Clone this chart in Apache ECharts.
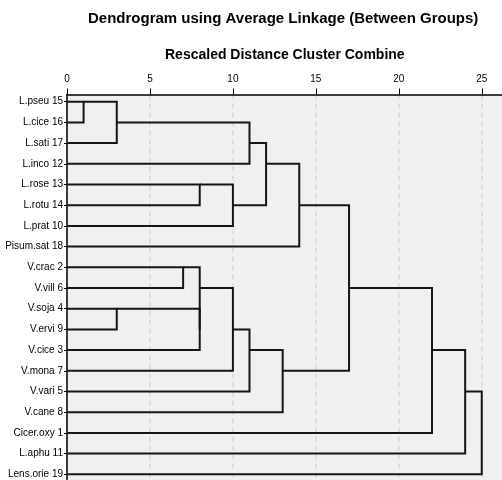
<!DOCTYPE html>
<html>
<head>
<meta charset="utf-8">
<script src="https://cdn.jsdelivr.net/npm/echarts@6/dist/echarts.min.js"></script>
<style>
html,body{margin:0;padding:0;background:#fff;}
#chart{width:502px;height:480px;}
</style>
</head>
<body>
<div id="chart"></div>
<script>
// Leaves in dendrogram order (top to bottom)
const leafLabels = ['L.pseu 15','L.cice 16','L.sati 17','L.inco 12','L.rose 13','L.rotu 14','L.prat 10','Pisum.sat 18',
  'V.crac 2','V.vill 6','V.soja 4','V.ervi 9','V.cice 3','V.mona 7','V.vari 5','V.cane 8','Cicer.oxy 1','L.aphu 11','Lens.orie 19'];
// Agglomeration schedule: node ids 0-18 are leaves, 19+ are merges in this order
const mergeA    = [0, 10, 19, 8, 4, 20, 22, 23, 25, 21, 27, 28, 29, 30, 32, 33, 34, 35];
const mergeB    = [1, 11, 2,  9, 5, 12, 24, 6,  13, 3,  14, 26, 15, 7,  31, 16, 17, 18];
const mergeDist = [1, 3,  3,  7, 8, 8,  8,  10, 10, 11, 11, 12, 13, 14, 17, 22, 24, 25];
const xTicks = [0, 5, 10, 15, 20, 25];

const nLeaf = leafLabels.length;
const pos = [], hgt = [];
for (let i = 0; i < nLeaf; i++) { pos.push(i); hgt.push(0); }
const segs = [];
for (let k = 0; k < mergeA.length; k++) {
  const a = mergeA[k], b = mergeB[k], d = mergeDist[k];
  segs.push({coords: [[hgt[a], pos[a]], [d, pos[a]], [d, pos[b]], [hgt[b], pos[b]]]});
  pos.push(Math.floor((pos[a] + pos[b]) / 2));
  hgt.push(d);
}
const leafIdx = leafLabels.map((_, i) => i);
const FONT = '"Liberation Sans", Arial, sans-serif';

const chart = echarts.init(document.getElementById('chart'), null, {renderer: 'canvas'});
chart.setOption({
  animation: false,
  backgroundColor: '#ffffff',
  title: [
    {text: 'Dendrogram using Average Linkage (Between Groups)', left: 88, top: 11, padding: 0,
     textStyle: {fontFamily: FONT, fontSize: 15, fontWeight: 'bold', color: '#000'}},
    {text: 'Rescaled Distance Cluster Combine', left: 165, top: 48, padding: 0,
     textStyle: {fontFamily: FONT, fontSize: 14, fontWeight: 'bold', color: '#000'}}
  ],
  grid: {left: 67, right: 0, top: 94.5, bottom: 0, show: true, backgroundColor: '#f0f0f0', borderWidth: 0, containLabel: false},
  xAxis: {
    type: 'value', position: 'top', min: 0, max: 26.22, interval: 5,
    axisLine: {show: true, onZero: false, lineStyle: {color: '#000', width: 1.5}},
    axisTick: {show: true, inside: false, length: 6, customValues: xTicks, lineStyle: {color: '#000', width: 1}},
    axisLabel: {show: true, margin: 10, customValues: xTicks, fontFamily: FONT, fontSize: 10, color: '#000',
      formatter: v => (v % 5 === 0 ? String(v) : '')},
    splitLine: {show: true, lineStyle: {color: '#d6d6d6', width: 1.5, type: [5, 4]}}
  },
  yAxis: {
    type: 'value', inverse: true, min: -0.348, max: 18.275, position: 'left',
    axisLine: {show: true, onZero: false, lineStyle: {color: '#000', width: 1.5}},
    axisTick: {show: true, inside: false, length: 3, customValues: leafIdx, lineStyle: {color: '#000', width: 1}},
    axisLabel: {show: true, margin: 4, customValues: leafIdx, fontFamily: FONT, fontSize: 10, color: '#000',
      formatter: v => leafLabels[Math.round(v)] || ''},
    splitLine: {show: false}
  },
  series: [{
    type: 'lines', coordinateSystem: 'cartesian2d', polyline: true, silent: true,
    lineStyle: {color: '#151515', width: 2, opacity: 1},
    data: segs, z: 5
  }]
});
</script>
</body>
</html>
